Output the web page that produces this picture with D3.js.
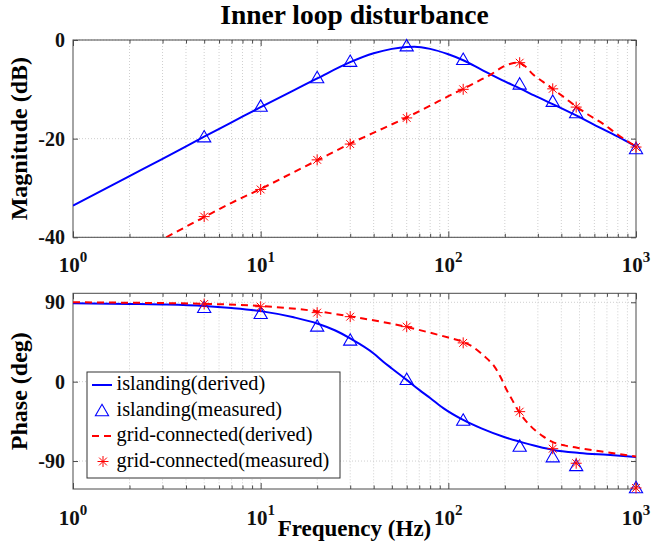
<!DOCTYPE html>
<html>
<head>
<meta charset="utf-8">
<script src="https://cdn.jsdelivr.net/npm/d3@7"></script>
<style>
  html, body { margin: 0; padding: 0; background: #fff; }
  svg { display: block; }
  text { font-family: "Liberation Serif", "Times New Roman", serif; }
</style>
</head>
<body>
<svg id="chart" width="651" height="549"></svg>
<script>
// ---------------- DATA ----------------
const xTicks = [1, 10, 100, 1000];
const xTickExp = ["0", "1", "2", "3"];
const magTicks = [-40, -20, 0];
const phaseTicks = [-90, 0, 90];

// measured frequencies (Hz)
const measFreq = [5, 10, 20, 30, 60, 120, 240, 360, 480, 1000];

// islanding, derived magnitude (dB)
const islMagFreq = [1, 2, 3, 5, 7, 10, 15, 20, 30, 40, 50, 60, 66, 80, 100, 120, 150, 200, 240, 300, 360, 480, 600, 800, 1000];
const islMag     = [-33.6, -27.6, -24.1, -19.6, -16.7, -13.6, -10.2, -7.8, -4.5, -2.7, -1.8, -1.4, -1.35, -1.8, -2.9, -4.1, -6.0, -8.4, -9.8, -11.6, -13.0, -15.3, -17.2, -19.6, -21.6];
// grid-connected, derived magnitude (dB)
const gridMagFreq = [3.14, 5, 7, 10, 15, 20, 30, 45, 60, 80, 100, 120, 150, 170, 196, 215, 231, 250, 283, 320, 360, 420, 480, 560, 668, 800, 1000];
const gridMag     = [-40, -35.9, -33.0, -30.2, -26.8, -24.4, -21.0, -17.9, -15.7, -13.3, -11.4, -9.9, -8.0, -6.9, -5.4, -4.8, -4.6, -5.0, -7.0, -8.5, -9.9, -11.8, -13.5, -15.2, -17.0, -19.2, -21.6];
// measured magnitude (dB)
const islMeasMag  = [-19.6, -13.4, -7.6, -4.3, -1.15, -3.9, -8.9, -12.4, -14.7, -22.0];
const gridMeasMag = [-35.8, -30.3, -24.3, -21.1, -15.8, -10.0, -4.6, -9.9, -13.6, -21.7];

// islanding, derived phase (deg)
const islPhFreq = [1, 2, 3, 5, 7, 10, 15, 20, 25, 30, 40, 45, 50, 60, 70, 80, 94, 120, 150, 200, 240, 300, 363, 500, 700, 1000];
const islPh     = [88.8, 88.2, 87.5, 85.8, 83.5, 80, 73, 66, 58, 49, 32, 22.7, 15, 2, -9.3, -18.5, -30, -43.4, -53, -63, -68, -73.5, -77.4, -80.8, -83, -85.3];
// grid-connected, derived phase (deg)
const gridPhFreq = [1, 2, 5, 10, 20, 30, 45, 60, 80, 100, 120, 135, 150, 163, 175, 190, 203, 220, 237, 260, 290, 320, 356, 420, 524, 700, 1000];
const gridPh     = [90, 89.5, 88.3, 85.8, 79.8, 74, 67.5, 62, 55.5, 50, 45, 39.5, 32, 25, 18, 5, -8, -21.5, -33.5, -45, -55, -62, -68, -72.5, -76, -80, -84.8];
// measured phase (deg)
const islMeasPh  = [84.4, 77.5, 63.2, 47.3, 2.7, -43.5, -73, -85, -95, -120];
const gridMeasPh = [88.1, 85.0, 78.3, 73.7, 62.4, 44, -34, -76, -92.5, -120.5];

const legendLabels = ["islanding(derived)", "islanding(measured)", "grid-connected(derived)", "grid-connected(measured)"];

// ---------------- DRAWING ----------------
const svg = d3.select("#chart");
const BLUE = "#0000ff", RED = "#ff0000", AXC = "#4a4a4a", GRID = "#cfcfcf";
const FONT = '"Liberation Serif", "Times New Roman", serif';

const L = 73, R = 636;
const x = d3.scaleLog().domain([1, 1000]).range([L, R]);
const yMag = d3.scaleLinear().domain([-40, 0]).range([237.3, 40]);
const yPh = d3.scaleLinear().domain([-121.7, 100.2]).range([489, 293.3]);

const minorX = [];
[1, 10, 100].forEach(d => { for (let k = 2; k <= 9; k++) minorX.push(d * k); });

function panel(y, yTicks, id, labelBaseline) {
  const [y0, y1] = y.range(); // bottom, top
  const g = svg.append("g");
  g.append("clipPath").attr("id", id).append("rect")
    .attr("x", L).attr("y", y1).attr("width", R - L).attr("height", y0 - y1);
  // grid
  const grid = g.append("g").attr("stroke", GRID).attr("stroke-width", 1).attr("stroke-dasharray", "1,2");
  grid.selectAll("line.vx").data(minorX.concat([10, 100])).join("line")
    .attr("x1", d => x(d)).attr("x2", d => x(d)).attr("y1", y1).attr("y2", y0);
  grid.selectAll("line.hy").data(yTicks).join("line")
    .attr("x1", L).attr("x2", R).attr("y1", d => y(d)).attr("y2", d => y(d));
  // axes (inward ticks)
  const axG = g.append("g").attr("class", "axes");
  const styleAx = s => { s.select(".domain").remove(); s.selectAll("line").attr("stroke", AXC); s.selectAll("text").remove(); };
  axG.append("g").attr("transform", `translate(0,${y0})`)
    .call(d3.axisBottom(x).tickValues(xTicks).tickSize(-6)).call(styleAx);
  axG.append("g").attr("transform", `translate(0,${y0})`)
    .call(d3.axisBottom(x).tickValues(minorX).tickSize(-3.5)).call(styleAx);
  axG.append("g").attr("transform", `translate(0,${y1})`)
    .call(d3.axisTop(x).tickValues(xTicks).tickSize(-6)).call(styleAx);
  axG.append("g").attr("transform", `translate(0,${y1})`)
    .call(d3.axisTop(x).tickValues(minorX).tickSize(-3.5)).call(styleAx);
  const yl = axG.append("g").attr("transform", `translate(${L},0)`)
    .call(d3.axisLeft(y).tickValues(yTicks).tickSize(-5).tickPadding(8).tickFormat(d => String(d)));
  yl.select(".domain").remove();
  yl.selectAll("line").attr("stroke", AXC);
  yl.selectAll("text").attr("font-family", FONT).attr("font-size", 20).attr("font-weight", "bold").attr("fill", "#111");
  axG.append("g").attr("transform", `translate(${R},0)`)
    .call(d3.axisRight(y).tickValues(yTicks).tickSize(-5)).call(styleAx);
  g.append("rect").attr("x", L).attr("y", y1).attr("width", R - L).attr("height", y0 - y1)
    .attr("fill", "none").attr("stroke", AXC).attr("stroke-width", 1);
  // x tick labels 10^n
  const xl = g.selectAll("text.xl").data(xTicks).join("text")
    .attr("x", d => x(d)).attr("y", labelBaseline).attr("text-anchor", "middle")
    .attr("font-family", FONT).attr("font-weight", "bold").attr("font-size", 21).attr("fill", "#111");
  xl.append("tspan").text("10");
  xl.append("tspan").attr("font-size", 15).attr("dy", -10).text((d, i) => xTickExp[i]);
  return g;
}

function triangle(sel) {
  sel.attr("d", "M0,-6.2L6.6,5.2L-6.6,5.2Z").attr("fill", "none").attr("stroke", BLUE).attr("stroke-width", 1.1);
}
function star(sel) {
  sel.attr("d", "M-5.5,0H5.5M0,-5.5V5.5M-3.9,-3.9L3.9,3.9M-3.9,3.9L3.9,-3.9")
    .attr("fill", "none").attr("stroke", RED).attr("stroke-width", 1);
}

function curves(g, y, islF, islV, gridF, gridV, islM, gridM, clipId) {
  const line = d3.line().x(d => x(d[0])).y(d => y(d[1])).curve(d3.curveMonotoneX);
  g.append("path").datum(d3.zip(islF, islV)).attr("d", line)
    .attr("fill", "none").attr("stroke", BLUE).attr("stroke-width", 2).attr("clip-path", `url(#${clipId})`);
  g.selectAll("path.tri").data(d3.zip(measFreq, islM)).join("path").attr("class", "tri")
    .attr("transform", d => `translate(${x(d[0])},${y(d[1])})`).call(triangle);
  g.append("path").datum(d3.zip(gridF, gridV)).attr("d", line)
    .attr("fill", "none").attr("stroke", RED).attr("stroke-width", 2).attr("stroke-dasharray", "7,5")
    .attr("clip-path", `url(#${clipId})`);
  g.selectAll("path.star").data(d3.zip(measFreq, gridM)).join("path").attr("class", "star")
    .attr("transform", d => `translate(${x(d[0])},${y(d[1])})`).call(star);
}

const gTop = panel(yMag, magTicks, "clipTop", 272);
curves(gTop, yMag, islMagFreq, islMag, gridMagFreq, gridMag, islMeasMag, gridMeasMag, "clipTop");
const gBot = panel(yPh, phaseTicks, "clipBot", 525);
curves(gBot, yPh, islPhFreq, islPh, gridPhFreq, gridPh, islMeasPh, gridMeasPh, "clipBot");

// titles and labels
svg.append("text").attr("x", (L + R) / 2).attr("y", 24).attr("text-anchor", "middle")
  .attr("font-family", FONT).attr("font-weight", "bold").attr("font-size", 27.5).attr("fill", "#000")
  .text("Inner loop disturbance");
svg.append("text").attr("transform", `translate(27,${(40 + 237.3) / 2}) rotate(-90)`).attr("text-anchor", "middle")
  .attr("font-family", FONT).attr("font-weight", "bold").attr("font-size", 24).attr("fill", "#000")
  .text("Magnitude (dB)");
svg.append("text").attr("transform", `translate(27,${(293.3 + 489) / 2}) rotate(-90)`).attr("text-anchor", "middle")
  .attr("font-family", FONT).attr("font-weight", "bold").attr("font-size", 24).attr("fill", "#000")
  .text("Phase (deg)");
svg.append("text").attr("x", (L + R) / 2).attr("y", 536).attr("text-anchor", "middle")
  .attr("font-family", FONT).attr("font-weight", "bold").attr("font-size", 23).attr("fill", "#000")
  .text("Frequency (Hz)");

// legend
const lg = svg.append("g");
lg.append("rect").attr("x", 87).attr("y", 372).attr("width", 253).attr("height", 106)
  .attr("fill", "#fff").attr("stroke", "#333").attr("stroke-width", 1);
const rowY = [390, 415.5, 441, 466.5];
lg.selectAll("text.lt").data(legendLabels).join("text")
  .attr("x", 116.5).attr("y", (d, i) => rowY[i])
  .attr("font-family", FONT).attr("font-size", 20.3).attr("fill", "#000").text(d => d);
lg.append("line").attr("x1", 92).attr("x2", 112).attr("y1", rowY[0] - 5).attr("y2", rowY[0] - 5)
  .attr("stroke", BLUE).attr("stroke-width", 2);
lg.append("path").attr("transform", `translate(102,${rowY[1] - 5})`).call(triangle);
lg.append("line").attr("x1", 92).attr("x2", 112).attr("y1", rowY[2] - 5).attr("y2", rowY[2] - 5)
  .attr("stroke", RED).attr("stroke-width", 2).attr("stroke-dasharray", "7,5");
lg.append("path").attr("transform", `translate(103,${rowY[3] - 5})`).call(star);
</script>
</body>
</html>
